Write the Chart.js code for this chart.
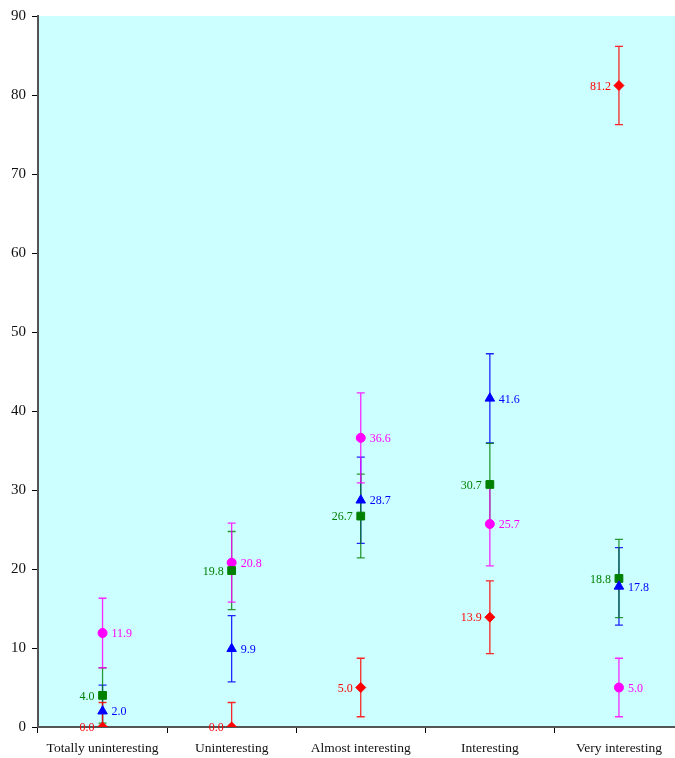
<!DOCTYPE html>
<html>
<head>
<meta charset="utf-8">
<script src="https://cdn.jsdelivr.net/npm/chart.js@4.4.0/dist/chart.umd.min.js"></script>
<style>
  html, body { margin: 0; padding: 0; background: #fff; overflow: hidden; }
  canvas { display: block; }
</style>
</head>
<body>
<canvas id="myChart" width="690" height="758"></canvas>
<script>
var categories = ['Totally uninteresting', 'Uninteresting', 'Almost interesting', 'Interesting', 'Very interesting'];
var yTicks = [0, 10, 20, 30, 40, 50, 60, 70, 80, 90];

// values and half-width of the error bars
var redValues = [0.0, 0.0, 5.0, 13.9, 81.2];
var redErrors = [3.1, 3.1, 3.7, 4.6, 4.95];
var magentaValues = [11.9, 20.8, 36.6, 25.7, 5.0];
var magentaErrors = [4.4, 5.0, 5.7, 5.3, 3.7];
var greenValues = [4.0, 19.8, 26.7, 30.7, 18.8];
var greenErrors = [3.5, 4.95, 5.3, 5.2, 4.95];
var blueValues = [2.0, 9.9, 28.7, 41.6, 17.8];
var blueErrors = [3.3, 4.2, 5.45, 5.65, 4.9];

var serif = '"Liberation Serif", "DejaVu Serif", serif';

function series(values, errors, color, barColor, shape, radius, side) {
    return {
        data: values,
        errors: errors,
        barColor: barColor,
        labelSide: side,
        showLine: false,
        pointStyle: shape,
        pointRadius: radius,
        pointHoverRadius: radius,
        backgroundColor: color,
        borderColor: color,
        borderWidth: 1
    };
}

// cyan plot background
var plotBackground = {
    id: 'plotBackground',
    beforeDraw: function (chart) {
        var a = chart.chartArea, ctx = chart.ctx;
        ctx.save();
        ctx.fillStyle = 'rgb(204, 255, 255)';
        ctx.fillRect(a.left, a.top, a.right - a.left, a.bottom - a.top);
        ctx.restore();
    }
};

// vertical error bars with small caps
var errorBars = {
    id: 'errorBars',
    beforeDatasetsDraw: function (chart) {
        var ctx = chart.ctx, a = chart.chartArea, y = chart.scales.y;
        ctx.save();
        ctx.beginPath();
        ctx.rect(a.left, a.top, a.right - a.left, a.bottom - a.top);
        ctx.clip();
        chart.data.datasets.forEach(function (ds, i) {
            var meta = chart.getDatasetMeta(i);
            ctx.strokeStyle = ds.barColor;
            ctx.lineWidth = 1.3;
            meta.data.forEach(function (pt, j) {
                var v = ds.data[j], e = ds.errors[j];
                var top = y.getPixelForValue(v + e);
                var bottom = y.getPixelForValue(v - e);
                ctx.beginPath();
                ctx.moveTo(pt.x, top); ctx.lineTo(pt.x, bottom);
                ctx.moveTo(pt.x - 4, top); ctx.lineTo(pt.x + 4, top);
                ctx.moveTo(pt.x - 4, bottom); ctx.lineTo(pt.x + 4, bottom);
                ctx.stroke();
            });
        });
        ctx.restore();
    }
};

// value labels next to each marker
var valueLabels = {
    id: 'valueLabels',
    afterDatasetsDraw: function (chart) {
        var ctx = chart.ctx;
        ctx.save();
        ctx.font = '12px ' + serif;
        ctx.textBaseline = 'middle';
        chart.data.datasets.forEach(function (ds, i) {
            var meta = chart.getDatasetMeta(i);
            ctx.fillStyle = ds.borderColor;
            meta.data.forEach(function (pt, j) {
                var txt = ds.data[j].toFixed(1);
                if (ds.labelSide === 'left') {
                    ctx.textAlign = 'right';
                    ctx.fillText(txt, pt.x - 8, pt.y + 1);
                } else {
                    ctx.textAlign = 'left';
                    ctx.fillText(txt, pt.x + 9, pt.y + 1);
                }
            });
        });
        ctx.restore();
    }
};

var cvas = document.getElementById('myChart').getContext('2d');
var myChart = new Chart(cvas, {
    type: 'line',
    data: {
        labels: categories,
        datasets: [
            series(blueValues, blueErrors, '#0000ff', 'rgba(0, 0, 255, 0.85)', 'triangle', 5.5, 'right'),
            series(greenValues, greenErrors, '#008000', 'rgba(0, 128, 0, 0.8)', 'rect', 5.5, 'left'),
            series(magentaValues, magentaErrors, '#ff00ff', 'rgba(255, 0, 255, 0.85)', 'circle', 4.5, 'right'),
            series(redValues, redErrors, '#ff0000', 'rgba(255, 0, 0, 0.85)', 'rectRot', 5, 'left')
        ]
    },
    options: {
        responsive: false,
        animation: false,
        layout: { padding: { top: 16, left: 0, right: 0, bottom: 0 } },
        plugins: {
            legend: { display: false },
            tooltip: { enabled: false }
        },
        scales: {
            x: {
                type: 'category',
                offset: true,
                grid: {
                    offset: true,
                    drawOnChartArea: false,
                    drawTicks: true,
                    tickLength: 6,
                    color: '#000'
                },
                border: { color: '#555', width: 2 },
                ticks: {
                    color: '#111',
                    font: { family: serif, size: 13.5 },
                    padding: 7,
                    maxRotation: 0,
                    autoSkip: false
                },
                afterFit: function (scale) { scale.height = 31; }
            },
            y: {
                min: 0,
                max: 90,
                afterBuildTicks: function (scale) {
                    scale.ticks = yTicks.map(function (v) { return { value: v }; });
                },
                grid: {
                    drawOnChartArea: false,
                    drawTicks: true,
                    tickLength: 6,
                    color: '#000'
                },
                border: { color: '#555', width: 2 },
                ticks: {
                    color: '#111',
                    font: { family: serif, size: 15 },
                    padding: 6
                },
                afterFit: function (scale) { scale.width = 38; }
            }
        }
    },
    plugins: [plotBackground, errorBars, valueLabels]
});
</script>
</body>
</html>
